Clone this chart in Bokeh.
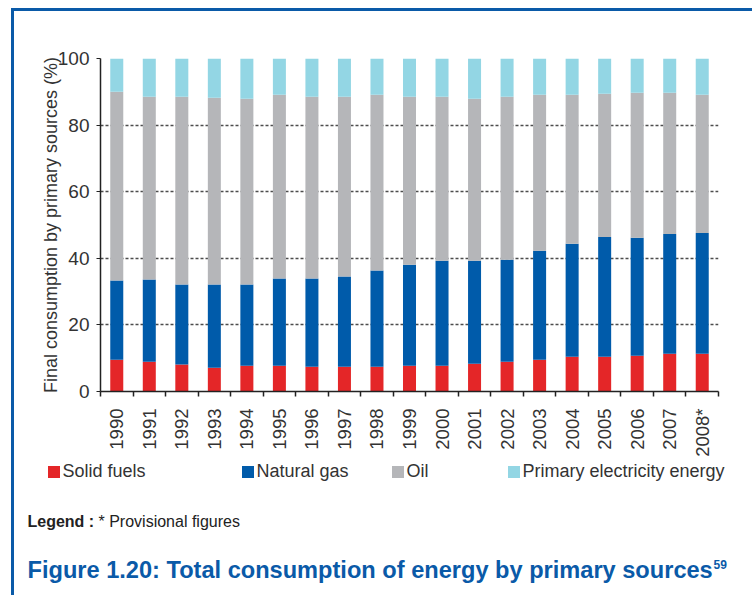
import math
from bokeh.plotting import figure
from bokeh.layouts import column
from bokeh.models import (ColumnDataSource, FixedTicker, Label, Legend, LegendItem, Range1d)
from bokeh.embed import file_html
from bokeh.resources import INLINE

years = ["1990", "1991", "1992", "1993", "1994", "1995", "1996", "1997", "1998", "1999",
         "2000", "2001", "2002", "2003", "2004", "2005", "2006", "2007", "2008*"]
solid_fuels = [9.5, 8.9, 8.1, 7.1, 7.7, 7.7, 7.4, 7.4, 7.4, 7.7,
               7.7, 8.3, 8.9, 9.5, 10.4, 10.4, 10.7, 11.3, 11.3]
natural_gas = [23.8, 24.7, 24.0, 25.0, 24.4, 26.2, 26.5, 27.1, 28.9, 30.4,
               31.6, 31.0, 30.7, 32.8, 34.0, 36.0, 35.5, 36.0, 36.3]
oil = [56.7, 54.9, 56.4, 56.1, 55.8, 55.2, 54.6, 54.0, 52.8, 50.4,
       49.2, 48.6, 48.9, 46.8, 44.7, 43.0, 43.5, 42.4, 41.5]
primary_electricity = [10.0, 11.5, 11.5, 11.8, 12.1, 10.9, 11.5, 11.5, 10.9, 11.5,
                       11.5, 12.1, 11.5, 10.9, 10.9, 10.6, 10.3, 10.3, 10.9]
series_names = ["Solid fuels", "Natural gas", "Oil", "Primary electricity energy"]
colors = ["#e42628", "#005baa", "#b5b6b9", "#93d6e4"]
y_ticks = [0, 20, 40, 60, 80, 100]

TXT = "#333333"
FONT = "Liberation Sans"
NARROW = "'Liberation Sans Narrow', 'Liberation Sans'"
BLUE = "#0a5aa8"

# page geometry (content of the framed box starts at page x=14, y=11)
OX, OY = 14, 11
W = 738
H1, H2 = 448, 136

n = len(years)
centers = [i + 0.5 for i in range(n)]
stack_cols = ["solid", "gas", "oil", "elec"]
src = ColumnDataSource(dict(x=centers, solid=solid_fuels, gas=natural_gas, oil=oil,
                            elec=primary_electricity))

p = figure(width=W, height=H1, output_backend="svg", toolbar_location=None,
           x_range=Range1d(0, n), y_range=Range1d(0, 100),
           min_border_left=100 - OX, min_border_right=W - (718 - OX),
           min_border_top=58 - OY, min_border_bottom=H1 - (393 - OY))
p.frame_align = False
p.outline_line_color = None
p.border_fill_color = "white"

p.vbar_stack(stack_cols, x="x", width=0.4, source=src, color=colors, line_color=None)

# y axis
p.yaxis.ticker = FixedTicker(ticks=y_ticks)
p.yaxis.axis_line_color = "#222222"
p.yaxis.axis_line_width = 1.5
p.yaxis.major_tick_out = 4
p.yaxis.major_tick_in = 0
p.yaxis.major_tick_line_color = "#222222"
p.yaxis.minor_tick_line_color = None
p.yaxis.major_label_text_font = FONT
p.yaxis.major_label_text_font_size = "19px"
p.yaxis.major_label_text_color = TXT
p.yaxis.major_label_standoff = 7
p.yaxis.axis_label = "Final consumption by primary sources (%)"
p.yaxis.axis_label_text_font = FONT
p.yaxis.axis_label_text_font_size = "18px"
p.yaxis.axis_label_text_font_style = "normal"
p.yaxis.axis_label_text_color = TXT
p.yaxis.axis_label_standoff = -6

# x axis: labels at bar centres, ticks at category boundaries
p.xaxis.ticker = FixedTicker(ticks=centers, minor_ticks=list(range(n + 1)))
p.xaxis.major_label_overrides = {c: y for c, y in zip(centers, years)}
p.xaxis.major_label_orientation = math.pi / 2
p.xaxis.major_tick_out = 0
p.xaxis.major_tick_in = 0
p.xaxis.minor_tick_out = 5
p.xaxis.minor_tick_in = 0
p.xaxis.minor_tick_line_color = "#222222"
p.xaxis.minor_tick_line_width = 1.5
p.xaxis.axis_line_color = "#222222"
p.xaxis.axis_line_width = 1.5
p.xaxis.major_label_text_font = FONT
p.xaxis.major_label_text_font_size = "18.5px"
p.xaxis.major_label_text_color = TXT
p.xaxis.major_label_standoff = 12

p.xgrid.grid_line_color = None
p.ygrid.ticker = FixedTicker(ticks=y_ticks)
p.ygrid.grid_line_color = "#4d4d4d"
p.ygrid.grid_line_width = 1.6
p.ygrid.grid_line_dash = "3 2"

# lower panel: legend row, note and caption (data units = page pixels)
y0 = OY + H1
q = figure(width=W, height=H2, output_backend="svg", toolbar_location=None,
           x_range=Range1d(OX, OX + W), y_range=Range1d(y0 + H2, y0),
           min_border=0, x_axis_location=None, y_axis_location=None)
q.frame_align = False
q.outline_line_color = None
q.xgrid.grid_line_color = None
q.ygrid.grid_line_color = None
q.border_fill_color = "white"

# legend proxies: same stacked series on off-panel ranges (never visible here)
q.extra_x_ranges = {"proxy": Range1d(1000, 1001)}
q.extra_y_ranges = {"proxy": Range1d(1000, 1001)}
proxies = q.vbar_stack(stack_cols, x="x", width=0.4, source=src, color=colors, line_color=None,
                       x_range_name="proxy", y_range_name="proxy")

leg_x = [47, 241, 391, 507]  # page px of swatches
for name, r, lx in zip(series_names, proxies, leg_x):
    lg = Legend(items=[LegendItem(label=name, renderers=[r])],
                location=(lx - 1.5 - OX, (y0 + H2) - 482), orientation="horizontal",
                glyph_width=15, glyph_height=15, label_standoff=2, label_height=15,
                label_text_font=FONT, label_text_font_size="18px", label_text_color=TXT,
                padding=0, margin=0, border_line_color=None, background_fill_alpha=0)
    q.add_layout(lg, "center")

q.add_layout(Label(x=27, y=521, text="Legend :", text_font=FONT, text_font_style="bold",
                   text_font_size="16px", text_color="#222222", text_baseline="middle"))
q.add_layout(Label(x=98, y=521, text="* Provisional figures", text_font=FONT,
                   text_font_size="16px", text_color="#222222", text_baseline="middle"))
q.add_layout(Label(x=27, y=569, text="Figure 1.20: Total consumption of energy by primary sources",
                   text_font=NARROW, text_font_style="bold", text_font_size="23.6px",
                   text_color=BLUE, text_baseline="middle"))
q.add_layout(Label(x=713, y=564, text="59", text_font=NARROW, text_font_style="bold",
                   text_font_size="12px", text_color=BLUE, text_baseline="middle"))

layout = column(p, q, spacing=0,
                styles={"border-top": "3px solid " + BLUE, "border-left": "3px solid " + BLUE,
                        "margin-left": "11px", "margin-top": "8px"})

open("out.html", "w").write(file_html(layout, INLINE))
